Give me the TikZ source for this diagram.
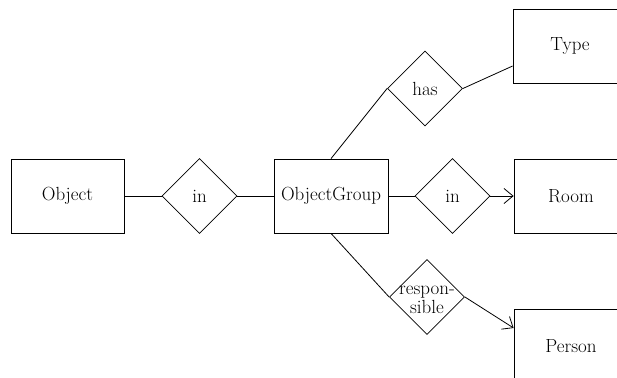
\documentclass[tikz,border=0pt]{standalone}
\usetikzlibrary{shapes.geometric,arrows.meta}
\begin{document}
\begin{tikzpicture}[x=1pt,y=-1pt,
  every node/.style={font=\fontsize{19}{19}\selectfont},
  entity/.style={draw,rectangle,line width=0.8pt,minimum width=114pt,minimum height=74pt,inner sep=0pt},
  relation/.style={draw,diamond,line width=0.8pt,minimum width=75pt,minimum height=75pt,inner sep=0pt,aspect=1},
  link/.style={line width=0.8pt},
  tolink/.style={line width=0.8pt,-{Straight Barb[length=9pt,width=15pt,line width=0.8pt]}}]
\useasboundingbox (0,0) rectangle (617,377);
\clip (0,0) rectangle (617,377);
% entities
\node[entity,minimum width=113pt] (obj) at (67.5,196) {Object};
\node[entity] (og) at (331,196) {\raisebox{5pt}{ObjectGroup}};
\node[entity] (type) at (570,46) {Type};
\node[entity] (room) at (571,196) {Room};
\node[entity] (person) at (571,346) {Person};
% relationships
\node[relation,label={center:in}] (in1) at (199.5,196) {};
\node[relation,label={center:has}] (has) at (425,88.5) {};
\node[relation,label={center:in}] (in2) at (452.5,196) {};
\node[relation] (resp) at (427,297) {};
\node[align=center,inner sep=0pt] (resptext) at (427,300) {respon-\\sible};
% connectors
\draw[link] (obj.east) -- (in1.west);
\draw[link] (in1.east) -- (og.west);
\draw[link] (og.east) -- (in2.west);
\draw[tolink] (in2.east) -- (room.west);
\draw[link] (og.north) -- (has.west);
\draw[link] (has.east) -- ([yshift=-20pt]type.west);
\draw[link] (og.south) -- (resp.west);
\draw[tolink] (resp.east) -- ([yshift=18pt]person.west);
\end{tikzpicture}
\end{document}
